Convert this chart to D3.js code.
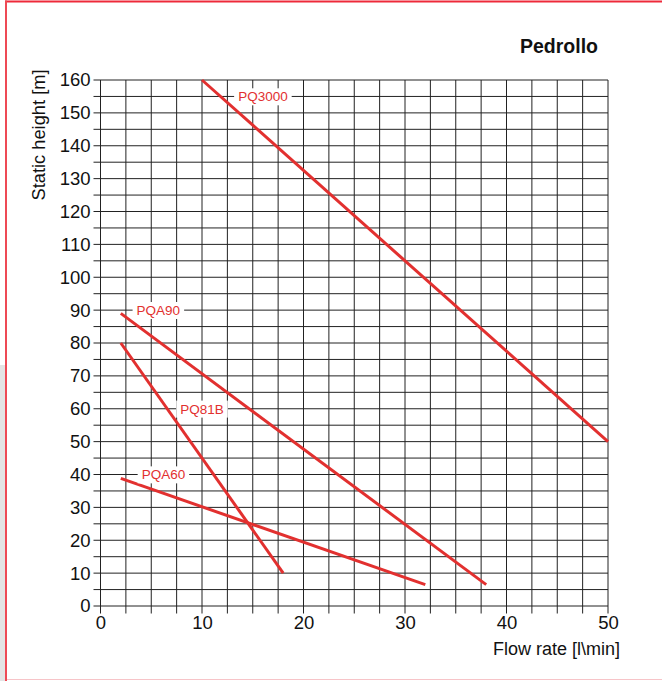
<!DOCTYPE html>
<html>
<head>
<meta charset="utf-8">
<script src="https://cdn.jsdelivr.net/npm/d3@7"></script>
<style>
  html, body { margin: 0; padding: 0; background: #fff; }
  svg { display: block; }
</style>
</head>
<body>
<svg id="chart" width="662" height="681"></svg>
<script>
// Pump curves: static height [m] against flow rate [l/min]
const pumps = ["PQ3000", "PQA90", "PQ81B", "PQA60"];
const flowStart = [10, 2, 2, 2];
const headStart = [160, 89, 80, 38.8];
const flowEnd = [50, 38, 18, 32];
const headEnd = [50, 6.5, 10, 6.5];
// where each pump name sits on the grid
const labelFlow = [16.0, 5.7, 10, 6.2];
const labelHead = [155, 90, 60, 40];

const xTicks = [0, 10, 20, 30, 40, 50];
const yTicks = [0, 10, 20, 30, 40, 50, 60, 70, 80, 90, 100, 110, 120, 130, 140, 150, 160];

const svg = d3.select("#chart");
const red = "#e2302f";

// page frame
svg.append("rect").attr("x", 0).attr("y", 365).attr("width", 5).attr("height", 316).attr("fill", "#e4e4e4");
svg.append("line").attr("x1", 5).attr("x2", 662).attr("y1", 1.5).attr("y2", 1.5)
  .attr("stroke", "#ee2a3a").attr("stroke-width", 2);
svg.append("line").attr("x1", 6).attr("x2", 6).attr("y1", 0.5).attr("y2", 681)
  .attr("stroke", "#ee4a55").attr("stroke-width", 2);
svg.append("line").attr("x1", 7).attr("x2", 662).attr("y1", 679.5).attr("y2", 679.5)
  .attr("stroke", "#f7c4c8").attr("stroke-width", 1);

const x = d3.scaleLinear().domain([0, 50]).range([100.5, 608]);
const y = d3.scaleLinear().domain([0, 160]).range([606, 80]);

const font = "'Liberation Sans', Arial, Helvetica, sans-serif";

// grid: verticals every 2.5, horizontals every 5
const g = svg.append("g");
const vGrid = d3.range(0, 50.001, 2.5);
const hGrid = d3.range(0, 160.001, 5);
g.selectAll(".v").data(vGrid).join("line")
  .attr("x1", d => x(d)).attr("x2", d => x(d))
  .attr("y1", y(160)).attr("y2", y(0) + 7.5)
  .attr("stroke", "#222").attr("stroke-width", 1);
g.selectAll(".h").data(hGrid).join("line")
  .attr("x1", x(0) - 7).attr("x2", x(50))
  .attr("y1", d => y(d)).attr("y2", d => y(d))
  .attr("stroke", "#222").attr("stroke-width", 1);

// axes labels through d3 axes (lines hidden; the grid supplies them)
const xAxis = svg.append("g").attr("transform", `translate(0,${y(0) + 7})`)
  .call(d3.axisBottom(x).tickValues(xTicks).tickSize(0).tickPadding(3));
xAxis.select(".domain").remove();
xAxis.selectAll("text").attr("font-family", font).attr("font-size", 18.5).attr("fill", "#111");

const yAxis = svg.append("g").attr("transform", `translate(${x(0) - 7},0)`)
  .call(d3.axisLeft(y).tickValues(yTicks).tickSize(0).tickPadding(3));
yAxis.select(".domain").remove();
yAxis.selectAll("text").attr("font-family", font).attr("font-size", 18.5).attr("fill", "#111");

svg.append("text")
  .attr("transform", `translate(45,135) rotate(-90)`)
  .attr("text-anchor", "middle")
  .attr("font-family", font).attr("font-size", 18.3).attr("fill", "#111")
  .text("Static height [m]");

svg.append("text")
  .attr("x", 620).attr("y", 655)
  .attr("text-anchor", "end")
  .attr("font-family", font).attr("font-size", 18).attr("fill", "#111")
  .text("Flow rate [l\\min]");

svg.append("text")
  .attr("x", 598).attr("y", 53)
  .attr("text-anchor", "end")
  .attr("font-family", font).attr("font-size", 19.5).attr("font-weight", "bold").attr("fill", "#111")
  .text("Pedrollo");

// pump curves
const curves = pumps.map((p, i) => ({
  name: p,
  pts: [[flowStart[i], headStart[i]], [flowEnd[i], headEnd[i]]],
  lx: labelFlow[i], ly: labelHead[i]
}));
const line = d3.line().x(d => x(d[0])).y(d => y(d[1]));
svg.selectAll(".curve").data(curves).join("path")
  .attr("d", d => line(d.pts))
  .attr("fill", "none").attr("stroke", red).attr("stroke-width", 3);

// pump names on white boxes
const labels = svg.selectAll(".lbl").data(curves).join("g")
  .attr("transform", d => `translate(${x(d.lx)},${y(d.ly)})`);
labels.append("text")
  .attr("text-anchor", "middle").attr("dy", "0.36em")
  .attr("font-family", font).attr("font-size", 13.5).attr("fill", red)
  .text(d => d.name);
labels.each(function() {
  const t = d3.select(this).select("text");
  const b = t.node().getBBox();
  d3.select(this).insert("rect", "text")
    .attr("x", b.x - 4).attr("y", b.y - 1)
    .attr("width", b.width + 8).attr("height", b.height + 2)
    .attr("fill", "#fff");
});
</script>
</body>
</html>
